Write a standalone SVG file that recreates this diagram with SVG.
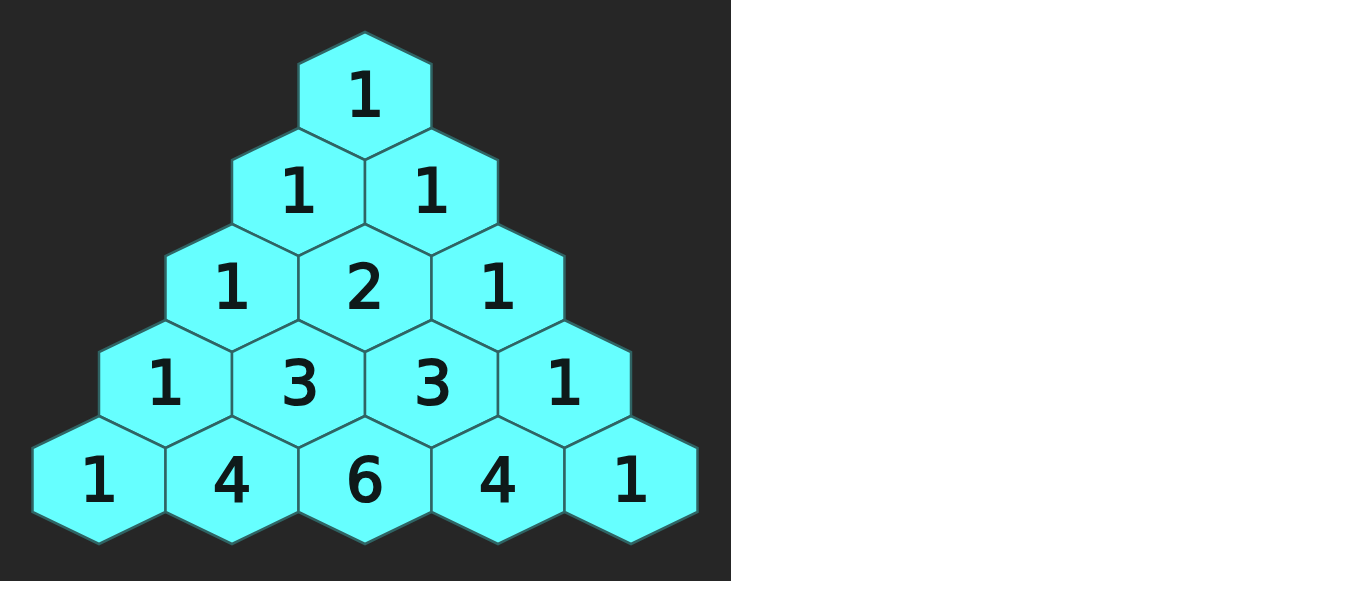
<svg xmlns="http://www.w3.org/2000/svg" xmlns:xlink="http://www.w3.org/1999/xlink" width="1351" height="595" viewBox="0 0 1351 595">
<style>
.hex{fill:#66ffff;stroke:#2f6464;stroke-width:2.5;stroke-linejoin:miter}
.num{font-family:"DejaVu Sans",Verdana,sans-serif;font-size:60px;fill:#0f1a1a;stroke:#0f1a1a;stroke-width:2.2;text-anchor:middle}
</style>
<defs>
<polygon id="h" points="0,-64 66.5,-32 66.5,32 0,64 -66.5,32 -66.5,-32"/>
</defs>
<rect x="0" y="0" width="1351" height="595" fill="#ffffff"/>
<rect x="0" y="0" width="731" height="581" fill="#262626"/>
<g id="r1c1"><use xlink:href="#h" class="hex" x="365" y="96"/><text class="num" x="365" y="116">1</text></g>
<g id="r2c1"><use xlink:href="#h" class="hex" x="298.5" y="192"/><text class="num" x="298.5" y="212">1</text></g>
<g id="r2c2"><use xlink:href="#h" class="hex" x="431.5" y="192"/><text class="num" x="431.5" y="212">1</text></g>
<g id="r3c1"><use xlink:href="#h" class="hex" x="232" y="288"/><text class="num" x="232" y="308">1</text></g>
<g id="r3c2"><use xlink:href="#h" class="hex" x="365" y="288"/><text class="num" x="365" y="308">2</text></g>
<g id="r3c3"><use xlink:href="#h" class="hex" x="498" y="288"/><text class="num" x="498" y="308">1</text></g>
<g id="r4c1"><use xlink:href="#h" class="hex" x="165.5" y="384"/><text class="num" x="165.5" y="404">1</text></g>
<g id="r4c2"><use xlink:href="#h" class="hex" x="298.5" y="384"/><text class="num" x="300" y="404">3</text></g>
<g id="r4c3"><use xlink:href="#h" class="hex" x="431.5" y="384"/><text class="num" x="433" y="404">3</text></g>
<g id="r4c4"><use xlink:href="#h" class="hex" x="564.5" y="384"/><text class="num" x="564.5" y="404">1</text></g>
<g id="r5c1"><use xlink:href="#h" class="hex" x="99" y="480"/><text class="num" x="99" y="501">1</text></g>
<g id="r5c2"><use xlink:href="#h" class="hex" x="232" y="480"/><text class="num" x="232" y="501">4</text></g>
<g id="r5c3"><use xlink:href="#h" class="hex" x="365" y="480"/><text class="num" x="365" y="501">6</text></g>
<g id="r5c4"><use xlink:href="#h" class="hex" x="498" y="480"/><text class="num" x="498" y="501">4</text></g>
<g id="r5c5"><use xlink:href="#h" class="hex" x="631" y="480"/><text class="num" x="631" y="501">1</text></g>
<g id="connectors"></g>
</svg>
